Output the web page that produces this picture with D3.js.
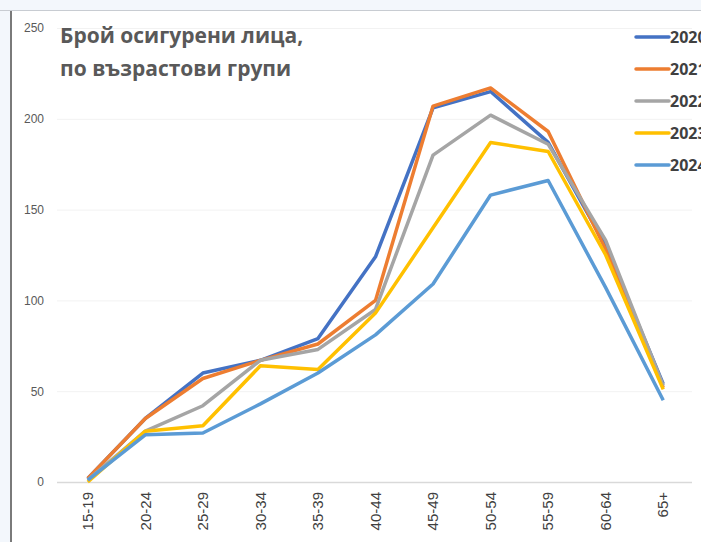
<!DOCTYPE html>
<html>
<head>
  <meta charset="utf-8">
  <title>Брой осигурени лица, по възрастови групи</title>
  <script src="https://d3js.org/d3.v7.min.js"></script>
  <style>
    body { margin: 0; background: #f3f7fc; overflow: hidden; }
    svg { display: block; font-family: "Open Sans", "Noto Sans", sans-serif; }
  </style>
</head>
<body>
<svg class="chart"></svg>
<script>
// Data
const ageGroups = ["15-19", "20-24", "25-29", "30-34", "35-39", "40-44", "45-49", "50-54", "55-59", "60-64", "65+"];
const years = ["2020", "2021", "2022", "2023", "2024"];
const v2020 = [2, 35, 60, 67, 79, 124, 206, 215, 187, 130, 54];
const v2021 = [2, 35, 57, 67, 76, 100, 207, 217, 193, 128, 52];
const v2022 = [1, 28, 42, 67, 73, 95, 180, 202, 186, 133, 53];
const v2023 = [0, 28, 31, 64, 62, 93, 140, 187, 182, 125, 51];
const v2024 = [1, 26, 27, 43, 60, 81, 109, 158, 166, 107, 45];
const yTicks = [0, 50, 100, 150, 200, 250];
const colors = ["#4472c4", "#ed7d31", "#a5a5a5", "#ffc000", "#5b9bd5"];

const series = [v2020, v2021, v2022, v2023, v2024].map((v, i) => ({ year: years[i], values: v, color: colors[i] }));

const W = 701, H = 542;
const margin = {top: 28, right: 9, bottom: 60, left: 59};

const svg = d3.select(".chart").attr("width", W).attr("height", H);

// frame: white chart area with borders
svg.append("rect").attr("x", 12).attr("y", 11).attr("width", W - 12).attr("height", H - 11).attr("fill", "#fff");
svg.append("line").attr("x1", 0).attr("x2", W).attr("y1", 10.5).attr("y2", 10.5).attr("stroke", "#c8ccd2");
svg.append("line").attr("x1", 11).attr("x2", 11).attr("y1", 11).attr("y2", H).attr("stroke", "#7a7a7a").attr("stroke-width", 2);

const chart = svg.append("g").attr("transform", `translate(${margin.left}, ${margin.top})`);
const width = W - margin.left - margin.right;
const height = 482 - margin.top;

const x = d3.scaleBand().domain(ageGroups).range([0, 633]);
const y = d3.scaleLinear().domain([0, 250]).range([height, 0]);

// gridlines
chart.append("g")
  .selectAll("line")
  .data(yTicks)
  .join("line")
    .attr("x1", -2).attr("x2", width)
    .attr("y1", d => y(d) + 0.5).attr("y2", d => y(d) + 0.5)
    .attr("stroke", d => d === 0 ? "#d9d9d9" : "#f2f2f2")
    .attr("stroke-width", d => d === 0 ? 1.5 : 1);

// y axis
const yAxis = chart.append("g")
  .call(d3.axisLeft(y).tickValues(yTicks).tickSize(0).tickPadding(15));
yAxis.select(".domain").remove();
yAxis.selectAll("text").attr("fill", "#595959").style("font-size", "12px");

// x axis
const xAxis = chart.append("g")
  .attr("transform", `translate(0, ${height})`)
  .call(d3.axisBottom(x).tickSize(0));
xAxis.select(".domain").remove();
xAxis.selectAll("text")
  .attr("fill", "#404040")
  .style("font-size", "15px")
  .attr("text-anchor", "end")
  .attr("transform", "rotate(-90)")
  .attr("x", -10)
  .attr("y", 0)
  .attr("dy", "0.35em");

// lines
const line = d3.line()
  .x((d, i) => x(ageGroups[i]) + x.bandwidth() / 2)
  .y(d => y(d));

chart.selectAll(".series")
  .data(series)
  .join("path")
    .attr("class", "series")
    .attr("fill", "none")
    .attr("stroke", d => d.color)
    .attr("stroke-width", 3.5)
    .attr("stroke-linejoin", "round")
    .attr("d", d => line(d.values));

// title
const title = svg.append("text")
  .attr("x", 60).attr("y", 43)
  .attr("fill", "#595959")
  .style("font-size", "21px")
  .style("font-weight", "bold");
title.append("tspan").attr("x", 60).text("Брой осигурени лица,");
title.append("tspan").attr("x", 60).attr("dy", 33).text("по възрастови групи");

// legend
const legend = svg.append("g")
  .selectAll("g")
  .data(series)
  .join("g")
    .attr("transform", (d, i) => `translate(636, ${37 + i * 32})`);
legend.append("line")
  .attr("x1", 0).attr("x2", 33)
  .attr("stroke", d => d.color)
  .attr("stroke-width", 3.5)
  .attr("stroke-linecap", "round");
legend.append("text")
  .attr("x", 34).attr("dy", "0.35em")
  .attr("fill", "#404040")
  .style("font-size", "16px")
  .style("font-weight", "bold")
  .text(d => d.year);
</script>
</body>
</html>
